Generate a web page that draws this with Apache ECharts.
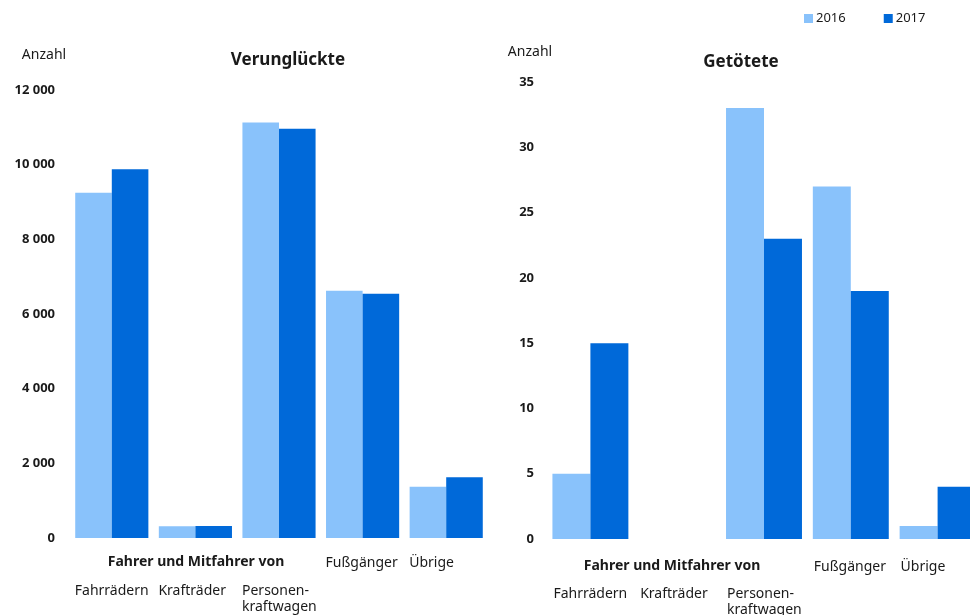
<!DOCTYPE html>
<html>
<head>
<meta charset="utf-8">
<script src="https://cdn.jsdelivr.net/npm/echarts@6/dist/echarts.min.js"></script>
<style>
html,body{margin:0;padding:0;background:#fff;}
#c{width:970px;height:615px;}
</style>
</head>
<body>
<div id="c"></div>
<script>
// ---- data ----
const categories = ['Fahrrädern', 'Krafträder', 'Personen-\nkraftwagen', 'Fußgänger', 'Übrige'];
const groupedCount = 3; // first three belong to "Fahrer und Mitfahrer von"
const groupLabel = 'Fahrer und Mitfahrer von';
const years = ['2016', '2017'];
const verunglueckte2016 = [9250, 315, 11130, 6620, 1370];
const verunglueckte2017 = [9880, 320, 10960, 6540, 1630];
const getoetete2016 = [5, 0, 33, 27, 1];
const getoetete2017 = [15, 0, 23, 19, 4];
const titleLeft = 'Verunglückte';
const titleRight = 'Getötete';
const unitLabel = 'Anzahl';

// ---- style ----
const FONT = '"Noto Sans", "Open Sans", sans-serif';
const TXT = '#1a1a1a';
const C16 = '#89C2FB';
const C17 = '#0069D9';

function fmtThousands(v) {
  return String(v).replace(/\B(?=(\d{3})+(?!\d))/g, ' ');
}
function catFormatter(v, i) {
  if (i < groupedCount) {
    return '{gap| }\n' + v.split('\n').map(s => '{lo|' + s + '}').join('\n');
  }
  return '{up|' + v + '}';
}
function xAxisCfg(gridIndex, margin, gapH) {
  return {
    type: 'category', gridIndex: gridIndex, data: categories,
    axisLine: {show: false}, axisTick: {show: false}, splitLine: {show: false},
    axisLabel: {
      interval: 0, margin: margin, width: 74, overflow: 'none',
      verticalAlign: 'top', formatter: catFormatter,
      color: TXT, fontFamily: FONT, fontSize: 14,
      rich: {
        gap: {lineHeight: gapH, fontSize: 14, fontFamily: FONT, align: 'left'},
        lo: {lineHeight: 16, fontSize: 14, fontFamily: FONT, color: TXT, align: 'left'},
        up: {lineHeight: 16, fontSize: 14, fontFamily: FONT, color: TXT, align: 'left'}
      }
    }
  };
}
function yAxisCfg(gridIndex, max, interval, margin, fmt) {
  return {
    type: 'value', gridIndex: gridIndex, min: 0, max: max, interval: interval,
    axisLine: {show: false}, axisTick: {show: false}, splitLine: {show: false},
    axisLabel: {
      margin: margin, color: TXT, fontFamily: FONT, fontSize: 13, fontWeight: 'bold',
      formatter: fmt
    }
  };
}
function barSeries(name, data, idx) {
  return {
    type: 'bar', name: name, data: data, xAxisIndex: idx, yAxisIndex: idx,
    barGap: '0%', barCategoryGap: '12.5%',
    itemStyle: {color: name === '2016' ? C16 : C17},
    emphasis: {disabled: true}
  };
}
function txt(x, y, text, size, weight, align) {
  return {
    type: 'text', x: x, y: y,
    style: {text: text, fill: TXT, font: (weight || 'normal') + ' ' + size + 'px ' + FONT,
      textAlign: align || 'center', textVerticalAlign: 'middle'}
  };
}

const chart = echarts.init(document.getElementById('c'), null, {renderer: 'canvas'});
chart.setOption({
  animation: false,
  backgroundColor: '#fff',
  legend: {
    data: years, left: 804, top: 12, padding: 0, icon: 'rect',
    itemWidth: 9, itemHeight: 9, itemGap: 38, itemStyle: {borderWidth: 0},
    textStyle: {fontFamily: FONT, fontSize: 13, color: TXT, padding: [0, 0, 0, -2]},
    selectedMode: false
  },
  grid: [
    {left: 70, top: 90, width: 418, height: 448, outerBoundsMode: 'none', containLabel: false},
    {left: 547, top: 82, width: 434, height: 457, outerBoundsMode: 'none', containLabel: false}
  ],
  xAxis: [xAxisCfg(0, 17, 28), xAxisCfg(1, 20, 27)],
  yAxis: [
    yAxisCfg(0, 12000, 2000, 15, fmtThousands),
    yAxisCfg(1, 35, 5, 13, v => String(v))
  ],
  series: [
    barSeries(years[0], verunglueckte2016, 0),
    barSeries(years[1], verunglueckte2017, 0),
    barSeries(years[0], getoetete2016, 1),
    barSeries(years[1], getoetete2017, 1)
  ],
  graphic: [
    txt(44, 55, unitLabel, 14, 'normal'),
    txt(530, 52, unitLabel, 14, 'normal'),
    txt(288, 60, titleLeft, 17, 'bold'),
    txt(741, 62, titleRight, 17, 'bold'),
    txt(196, 562, groupLabel, 14, 'bold'),
    txt(672, 566, groupLabel, 14, 'bold')
  ]
});
</script>
</body>
</html>
